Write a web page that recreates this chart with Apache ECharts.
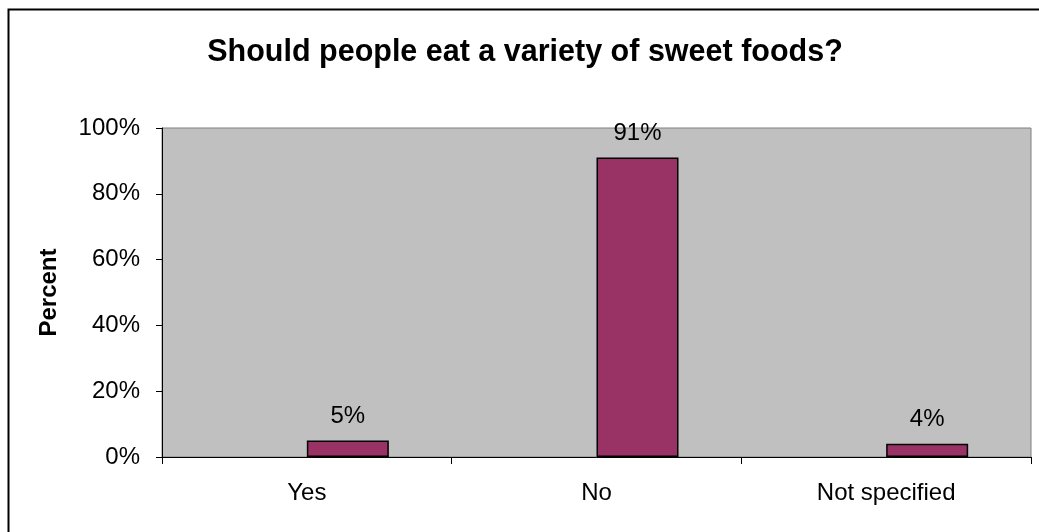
<!DOCTYPE html>
<html>
<head>
<meta charset="utf-8">
<script src="https://cdn.jsdelivr.net/npm/echarts@6/dist/echarts.min.js"></script>
<style>
html,body{margin:0;padding:0;background:#fff;}
#chart{width:1039px;height:532px;}
</style>
</head>
<body>
<div id="chart"></div>
<script>
const categories = ['Yes', 'No', 'Not specified'];
const percentValues = [5, 91, 4];
const yTicks = [0, 20, 40, 60, 80, 100];

const chart = echarts.init(document.getElementById('chart'));
const font = '"Liberation Sans", Arial, sans-serif';
chart.setOption({
  animation: false,
  backgroundColor: '#ffffff',
  title: {
    text: 'Should people eat a variety of sweet foods?',
    left: 520, top: 32, textAlign: 'center',
    textStyle: { fontFamily: font, fontSize: 30.5, fontWeight: 'bold', color: '#000' }
  },
  graphic: [{
    type: 'rect', silent: true,
    shape: { x: 8.5, y: 9.5, width: 1100, height: 600 },
    style: { fill: 'none', stroke: '#000', lineWidth: 2 }
  }],
  grid: {
    left: 162, right: 8, top: 128, bottom: 75,
    show: true, backgroundColor: '#c0c0c0', borderColor: '#808080', borderWidth: 1
  },
  xAxis: {
    type: 'category', data: categories,
    axisLine: { lineStyle: { color: '#000', width: 1 } },
    axisTick: { show: true, length: 7, lineStyle: { color: '#000' } },
    axisLabel: { fontFamily: font, fontSize: 24, color: '#000', margin: 24 }
  },
  yAxis: {
    type: 'value', min: yTicks[0], max: yTicks[yTicks.length - 1], interval: 20,
    name: 'Percent', nameLocation: 'middle', nameGap: 101, nameRotate: 90,
    nameTextStyle: { fontFamily: font, fontSize: 24, fontWeight: 'bold', color: '#000' },
    axisLine: { show: true, lineStyle: { color: '#000', width: 1 } },
    axisTick: { show: true, length: 6, lineStyle: { color: '#000' } },
    splitLine: { show: false },
    axisLabel: { fontFamily: font, fontSize: 24, color: '#000', margin: 22, formatter: '{value}%' }
  },
  series: [
    { type: 'bar', data: categories.map(() => null), barWidth: 82, barGap: 0, silent: true },
    {
      type: 'bar', data: percentValues, barWidth: 82, barGap: 0,
      itemStyle: { color: '#993366', borderColor: '#000', borderWidth: 1.5 },
      label: {
        show: true, position: 'top', distance: 12, formatter: '{c}%',
        fontFamily: font, fontSize: 24, color: '#000'
      }
    }
  ]
});
</script>
</body>
</html>
